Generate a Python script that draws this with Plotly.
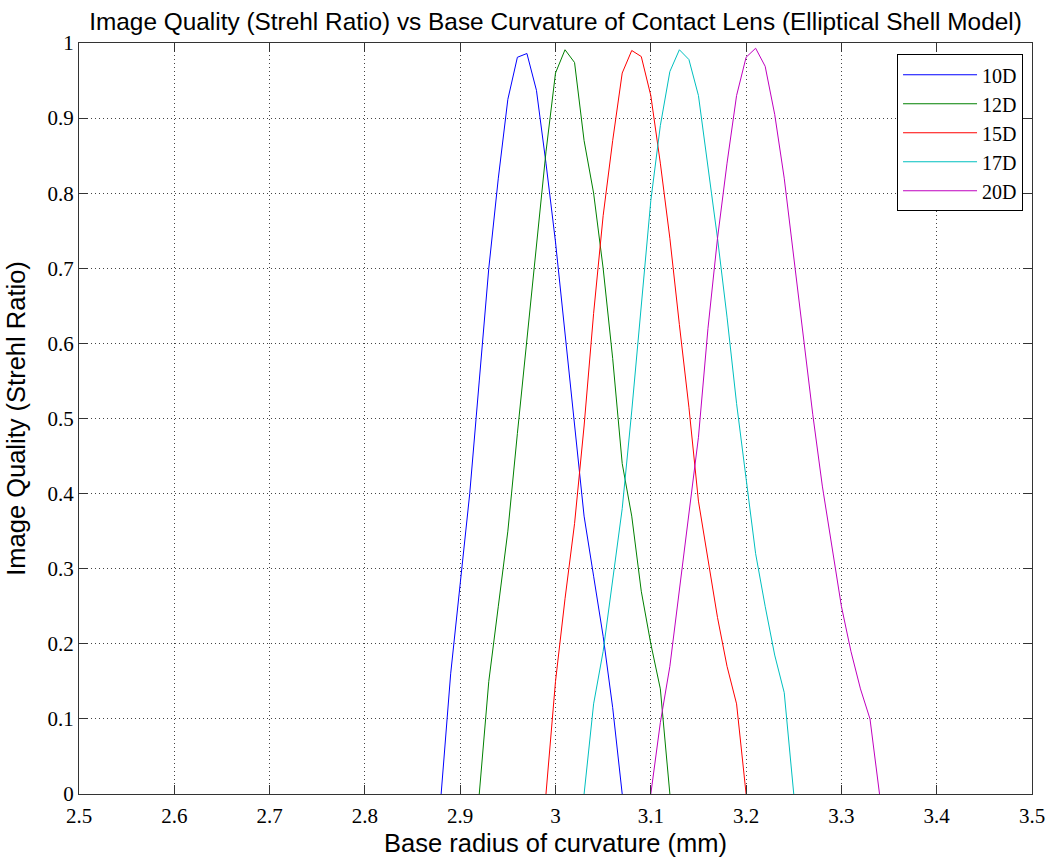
import plotly.graph_objects as go

series_names = ["10D", "12D", "15D", "17D", "20D"]
series_colors = ["#0000ff", "#008000", "#ff0000", "#00bfbf", "#bf00bf"]

x_10D = [2.88, 2.89, 2.90, 2.91, 2.92, 2.93, 2.94, 2.95, 2.96, 2.97,
         2.98, 2.99, 3.00, 3.01, 3.02, 3.03, 3.04, 3.05, 3.06, 3.07]
y_10D = [0, 0.16, 0.28, 0.40, 0.55, 0.70, 0.82, 0.925, 0.981, 0.986,
         0.937, 0.84, 0.735, 0.615, 0.49, 0.37, 0.29, 0.21, 0.115, 0]

x_12D = [2.92, 2.93, 2.94, 2.95, 2.96, 2.97, 2.98, 2.99, 3.00, 3.01, 3.02,
         3.03, 3.04, 3.05, 3.06, 3.07, 3.08, 3.09, 3.10, 3.11, 3.12]
y_12D = [0, 0.15, 0.25, 0.35, 0.48, 0.605, 0.73, 0.855, 0.96, 0.991, 0.974,
         0.87, 0.80, 0.70, 0.58, 0.44, 0.37, 0.27, 0.20, 0.14, 0]

x_15D = [2.99, 3.00, 3.01, 3.02, 3.03, 3.04, 3.05, 3.06, 3.07, 3.08, 3.09,
         3.10, 3.11, 3.12, 3.13, 3.14, 3.15, 3.16, 3.17, 3.18, 3.19, 3.20]
y_15D = [0, 0.15, 0.26, 0.36, 0.49, 0.64, 0.77, 0.87, 0.96, 0.99, 0.982,
         0.93, 0.84, 0.74, 0.625, 0.515, 0.39, 0.31, 0.235, 0.17, 0.12, 0]

x_17D = [3.03, 3.04, 3.05, 3.06, 3.07, 3.08, 3.09, 3.10, 3.11, 3.12, 3.13, 3.14,
         3.15, 3.16, 3.17, 3.18, 3.19, 3.20, 3.21, 3.22, 3.23, 3.24, 3.25]
y_17D = [0, 0.12, 0.19, 0.285, 0.38, 0.51, 0.65, 0.79, 0.89, 0.962, 0.991, 0.978,
         0.93, 0.835, 0.74, 0.635, 0.52, 0.42, 0.32, 0.25, 0.185, 0.135, 0]

x_20D = [3.10, 3.11, 3.12, 3.13, 3.14, 3.15, 3.16, 3.17, 3.18, 3.19, 3.20, 3.21, 3.22,
         3.23, 3.24, 3.25, 3.26, 3.27, 3.28, 3.29, 3.30, 3.31, 3.32, 3.33, 3.34]
y_20D = [0, 0.095, 0.17, 0.27, 0.37, 0.475, 0.62, 0.74, 0.84, 0.93, 0.981, 0.993, 0.969,
         0.905, 0.82, 0.715, 0.61, 0.505, 0.41, 0.33, 0.25, 0.19, 0.14, 0.10, 0]

x_ticks = [2.5, 2.6, 2.7, 2.8, 2.9, 3.0, 3.1, 3.2, 3.3, 3.4, 3.5]
x_tick_labels = ["2.5", "2.6", "2.7", "2.8", "2.9", "3", "3.1", "3.2", "3.3", "3.4", "3.5"]
y_ticks = [0, 0.1, 0.2, 0.3, 0.4, 0.5, 0.6, 0.7, 0.8, 0.9, 1]
y_tick_labels = ["0", "0.1", "0.2", "0.3", "0.4", "0.5", "0.6", "0.7", "0.8", "0.9", "1"]

xs = [x_10D, x_12D, x_15D, x_17D, x_20D]
ys = [y_10D, y_12D, y_15D, y_17D, y_20D]

fig = go.Figure()
for name, color, x, y in zip(series_names, series_colors, xs, ys):
    fig.add_trace(go.Scatter(x=x, y=y, mode="lines", name=name,
                             line=dict(color=color, width=1)))

serif = "Liberation Serif"
sans = "Liberation Sans"
tick_font = dict(family=serif, size=21, color="#000")

axis_common = dict(
    showline=True, linecolor="#333", linewidth=1, mirror="ticks",
    ticks="inside", ticklen=9, tickcolor="#333", tickwidth=1,
    showgrid=True, gridcolor="#444", gridwidth=1, griddash="1px,3px",
    zeroline=False, automargin=False,
)

fig.update_layout(
    width=1052, height=860,
    paper_bgcolor="white", plot_bgcolor="white",
    font=dict(family=serif, size=20, color="#000"),
    margin=dict(l=79, r=20, t=43, b=66),
    showlegend=True,
    legend=dict(
        x=0.9906, xanchor="right", y=0.985, yanchor="top",
        bgcolor="white", bordercolor="#000", borderwidth=1,
        font=dict(family=serif, size=20, color="#000"),
        itemwidth=74,
    ),
    xaxis=dict(range=[2.5, 3.5], tickvals=x_ticks, ticktext=x_tick_labels,
               tickfont=tick_font, ticklabelstandoff=3,
               title=dict(text="Base radius of curvature (mm)",
                          font=dict(family=sans, size=25.5, color="#000"), standoff=6),
               **axis_common),
    yaxis=dict(range=[0, 1], tickvals=y_ticks, ticktext=y_tick_labels,
               tickfont=tick_font,
               title=dict(text="Image Quality (Strehl Ratio)",
                          font=dict(family=sans, size=25.5, color="#000"), standoff=14),
               **axis_common),
    title=dict(text="Image Quality (Strehl Ratio) vs Base Curvature of Contact Lens (Elliptical Shell Model)",
               font=dict(family=sans, size=24.4, color="#000"),
               x=0.5, xref="paper", xanchor="center",
               y=1 - 30 / 860, yref="container", yanchor="bottom"),
)

fig.write_html("out.html")
